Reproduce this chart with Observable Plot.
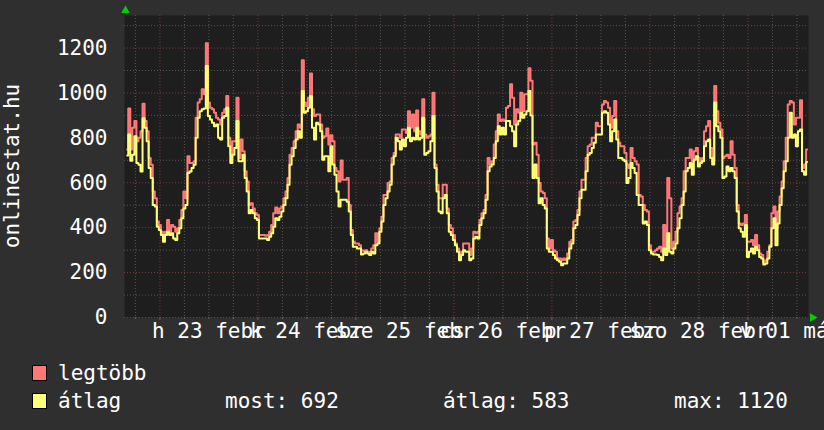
<!DOCTYPE html>
<html><head><meta charset="utf-8">
<script src="https://cdn.jsdelivr.net/npm/d3@7"></script>
<script src="https://cdn.jsdelivr.net/npm/@observablehq/plot@0.6"></script>
<style>
html,body{margin:0;padding:0;background:#2f2f2f;}
body{position:relative;width:824px;height:430px;overflow:hidden;font-family:"DejaVu Sans Mono",monospace;color:#fff;}
#chart{position:absolute;left:0;top:0;}
.lg{position:absolute;font-size:21px;line-height:21px;white-space:pre;color:#fff;}
.sw{position:absolute;width:13px;height:14px;border:1px solid #000;}
</style></head><body>
<div id="chart"></div>
<div id="legend"></div>
<script>
// ---- data ----
const seriesNames = ["legtöbb", "átlag"];
const startTime = "2015-02-22T16:00:00Z";   // first sample
const stepMinutes = 30;                      // sample spacing
const legtobb = [
 748,931,748,845,875,785,800,830,952,875, 830,710,680,561,531,427,412,382,352,382,
 434,382,412,404,382,397,434,479,561,531, 718,688,688,695,890,957,972,1016,994,1221,
 957,934,927,912,890,882,860,912,927,987, 800,725,785,785,979,710,793,740,651,606,
 501,509,486,464,457,367,367,367,364,367, 382,412,464,490,464,486,494,531,561,621,
 725,755,785,830,860,
 845,1146,957,942,979,1087,927,897,904,904, 860,800,807,842,770,812,785,666,651,606,
 699,613,613,621,501,390,337,330,330,322, 300,296,300,293,293,307,322,375,337,397,
 449,546,546,599,606,710,733,815,815,800, 837,837,822,919,845,904,830,922,830,815,
 972,815,800,807,815,1001,681,591,531,531, 591,591,486,412,397,367,330,307,281,293,
 330,330,
 330,278,307,382,375,382,434,464,479,546, 710,681,696,770,830,904,875,882,875,934,
 942,1039,979,860,927,912,1001,919,994,994, 1110,1054,770,778,725,599,561,554,531,352,
 307,345,300,293,263,263,255,263,255,285, 337,345,427,434,479,561,613,613,710,763,
 770,800,800,867,852,852,949,964,957,934, 845,897,964,830,778,763,763,733,681,666,
 755,710,696,
 681,546,539,501,479,472,322,293,293,300, 307,315,293,412,293,621,531,307,337,382,
 464,494,531,651,710,710,748,696,740,755, 710,696,710,830,852,875,755,696,1031,919,
 867,837,710,718,725,710,785,725,666,501, 419,412,419,457,337,337,345,322,367,322,
 285,278,248,255,293,322,464,494,397,472, 539,606,696,800,949,964,957,860,890,890,
 967,666,681,748
];
const atlag = [
 722,815,698,725,807,688,680,650,887,845, 785,666,621,501,494,404,390,367,337,367,
 382,367,375,352,345,375,397,442,486,501, 643,650,666,680,800,890,919,927,931,1120,
 897,882,867,852,860,800,793,890,897,934, 763,688,725,755,875,696,696,725,621,561,
 464,479,464,442,434,352,352,352,352,345, 360,375,404,442,434,449,472,501,531,591,
 680,718,755,793,830,
 800,1009,912,919,934,987,845,793,867,860, 830,703,718,718,651,763,681,636,561,494,
 524,524,524,516,472,367,315,315,307,307, 281,285,293,285,278,293,285,322,330,382,
 427,501,531,561,591,681,718,800,785,748, 793,763,800,845,785,800,793,845,793,800,
 890,725,733,740,785,897,666,561,472,464, 531,546,464,382,367,345,322,293,255,278,
 300,293,
 293,255,263,352,360,352,412,442,464,524, 651,673,681,710,785,852,815,845,815,875,
 875,852,830,763,860,875,912,890,904,919, 1009,900,621,681,621,509,531,501,486,307,
 293,293,278,263,255,248,233,240,240,263, 307,330,397,412,457,531,569,569,651,725,
 733,755,778,815,815,815,912,919,912,860, 785,830,882,793,710,710,703,696,599,621,
 688,666,643,
 546,501,501,419,427,412,300,285,281,281, 278,270,255,307,278,375,293,285,307,330,
 397,442,501,561,651,666,688,636,703,718, 673,688,696,763,785,793,710,681,957,852,
 830,800,621,628,673,651,666,651,621,472, 397,382,360,412,270,293,307,285,315,300,
 270,263,236,240,263,315,397,442,322,419, 501,576,651,696,800,912,800,815,763,830,
 837,651,636,692
];
const yTicks = [0, 200, 400, 600, 800, 1000, 1200];
const yTitle = "onlinestat.hu";
const dayLabels = ["h 23 febr", "k 24 febr", "sze 25 febr", "cs 26 febr", "p 27 febr", "szo 28 febr", "v 01 márc"];
const dayLabelTimes = ["2015-02-23T12:00:00Z","2015-02-24T12:00:00Z","2015-02-25T12:00:00Z","2015-02-26T12:00:00Z","2015-02-27T12:00:00Z","2015-02-28T12:00:00Z","2015-03-01T12:00:00Z"];
const timeRange = ["2015-02-22T15:20:00Z", "2015-03-01T14:50:00Z"];
const valueRange = [0, 1345];
const statLabels = ["most:", "átlag:", "max:"];
const statValues = [692, 583, 1120];

// ---- build ----
const t0 = new Date(startTime);
const toRows = (arr) => arr.map((v, i) => ({t: new Date(+t0 + i * stepMinutes * 60000), v}));
const rowsMax = toRows(legtobb);
const rowsAvg = toRows(atlag);
const xDomain = timeRange.map(d => new Date(d));
const labelDates = dayLabelTimes.map(d => new Date(d));
const sixHours = d3.utcHour.every(6).range(xDomain[0], xDomain[1]);
const midnights = sixHours.filter(d => d.getUTCHours() === 0);
const minorX = sixHours.filter(d => d.getUTCHours() !== 0);
const minorY = d3.range(100, valueRange[1], 200);

const RED = "#ff7878", YEL = "#ffff78";
const GRID_MINOR = "#575757", GRID_MAJOR = "#7a3c3c";

const plot = Plot.plot({
  width: 824, height: 345,
  marginLeft: 124, marginRight: 16, marginTop: 15, marginBottom: 28,
  style: {background: "transparent", color: "#fff", fontFamily: "'DejaVu Sans Mono', monospace", overflow: "hidden"},
  x: {type: "utc", domain: xDomain},
  y: {domain: valueRange},
  marks: [
    Plot.frame({fill: "#1e1e1e", stroke: null}),
    Plot.gridY(minorY, {stroke: GRID_MINOR, strokeOpacity: 1, strokeDasharray: "1,2"}),
    Plot.gridX(minorX, {stroke: GRID_MINOR, strokeOpacity: 1, strokeDasharray: "1,2"}),
    Plot.gridY(yTicks, {stroke: GRID_MAJOR, strokeOpacity: 1, strokeDasharray: "1,2"}),
    Plot.gridX(midnights, {stroke: GRID_MAJOR, strokeOpacity: 1, strokeDasharray: "1,2"}),
    Plot.ruleX(minorX, {x: d => d, y1: 0, y2: -9, stroke: "#666"}),
    Plot.ruleX(midnights, {x: d => d, y1: 0, y2: -13, stroke: "#a04848"}),
    Plot.line(rowsMax, {x: "t", y: "v", stroke: RED, strokeWidth: 2, curve: "step"}),
    Plot.line(rowsAvg, {x: "t", y: "v", stroke: YEL, strokeWidth: 2, curve: "step"}),
    Plot.axisY({ticks: yTicks, tickSize: 0, tickPadding: 17, fontSize: 21, fill: "#fff", label: null,
      tickFormat: d => String(d)}),
    Plot.axisX({ticks: labelDates, tickSize: 0, tickPadding: 6, fontSize: 21, fill: "#fff", label: null,
      tickFormat: d => dayLabels[labelDates.findIndex(t => +t === +d)]}),
    Plot.dot([{t: xDomain[0], v: valueRange[1]}], {x: "t", y: "v", symbol: "triangle", r: 3.2, fill: "#00d000", stroke: null, dy: -5, dx: 1}),
    Plot.dot([{t: xDomain[1], v: valueRange[0]}], {x: "t", y: "v", symbol: "triangle", r: 3.2, fill: "#00d000", stroke: null, rotate: 90, dx: 4})
  ]
});
document.getElementById("chart").appendChild(plot);

// y title
const svg = d3.select(plot);
svg.append("text")
  .attr("transform", "translate(19,166) rotate(-90)")
  .attr("text-anchor", "middle")
  .attr("fill", "#fff")
  .attr("font-size", 21)
  .attr("font-family", "'DejaVu Sans Mono', monospace")
  .text(yTitle);

// legend (HTML, below the svg)
const lg = document.getElementById("legend");
const colors = [RED, YEL];
const rowTops = [363, 391];
seriesNames.forEach((name, i) => {
  const sw = document.createElement("div");
  sw.className = "sw";
  sw.style.left = "32px"; sw.style.top = (rowTops[i] + 2) + "px"; sw.style.background = colors[i];
  lg.appendChild(sw);
  const tx = document.createElement("div");
  tx.className = "lg"; tx.style.left = "58px"; tx.style.top = rowTops[i] + "px";
  tx.textContent = name;
  lg.appendChild(tx);
});
const statX = [225, 443, 674];
statLabels.forEach((s, i) => {
  const tx = document.createElement("div");
  tx.className = "lg"; tx.style.left = statX[i] + "px"; tx.style.top = rowTops[1] + "px";
  tx.textContent = s + " " + statValues[i];
  lg.appendChild(tx);
});
</script>
</body></html>
